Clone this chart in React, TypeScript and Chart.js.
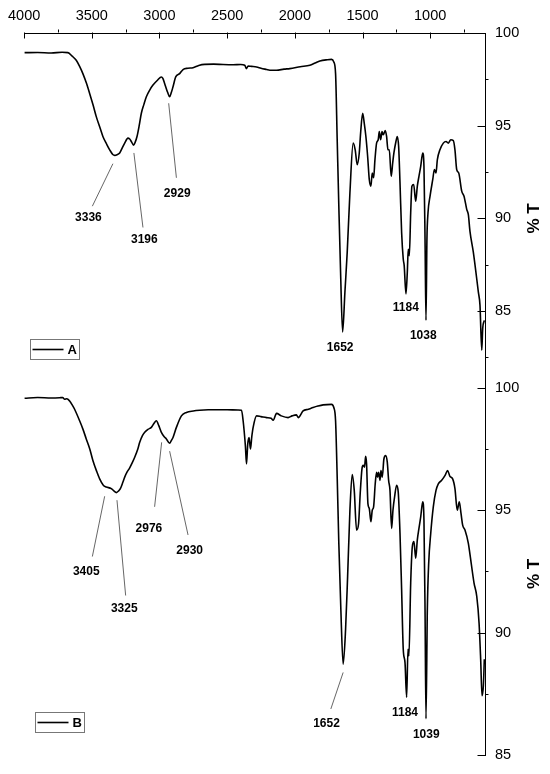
import React, { useEffect, useRef } from "react";
import { Chart, registerables } from "chart.js";

Chart.register(...registerables);

const FONT = "'Liberation Sans', Arial, Helvetica, sans-serif";

// Spectrum A (top panel): wavenumber (cm-1) and %T
const WN_A = [3997, 3900, 3800, 3720, 3677, 3645, 3615, 3590, 3566, 3540, 3516, 3490, 3467, 3440, 3418, 3390, 3368, 3345, 3331, 3310, 3294, 3275, 3257, 3233, 3220, 3208, 3191, 3180, 3166, 3150, 3134, 3115, 3097, 3070, 3048, 3015, 2986, 2975, 2962, 2940, 2925, 2912, 2900, 2880, 2851, 2826, 2790, 2752, 2710, 2666, 2600, 2530, 2456, 2400, 2370, 2357, 2345, 2320, 2283, 2250, 2209, 2185, 2135, 2080, 2037, 1960, 1889, 1850, 1815, 1760, 1729, 1712, 1699, 1687, 1675, 1662, 1647, 1630, 1613, 1593, 1569, 1554, 1539, 1524, 1514, 1499, 1487, 1475, 1462, 1450, 1438, 1428, 1418, 1408, 1396, 1384, 1376, 1366, 1356, 1347, 1332, 1322, 1312, 1302, 1288, 1277, 1268, 1253, 1243, 1233, 1223, 1211, 1199, 1192, 1179, 1169, 1162, 1154, 1144, 1135, 1122, 1107, 1095, 1083, 1070, 1055, 1046, 1038, 1031, 1024, 1016, 1001, 981, 969, 957, 947, 928, 903, 883, 866, 848, 829, 817, 804, 789, 767, 750, 730, 718, 706, 681, 644, 632, 619, 612, 600];
const T_A = [98.94, 98.95, 98.92, 98.96, 98.94, 98.75, 98.53, 98.2, 97.81, 97.3, 96.74, 96.1, 95.49, 94.9, 94.42, 94.0, 93.7, 93.45, 93.4, 93.45, 93.53, 93.8, 94.06, 94.33, 94.28, 94.15, 93.95, 94.1, 94.42, 95.0, 95.67, 96.15, 96.56, 96.95, 97.19, 97.45, 97.63, 97.55, 97.28, 96.8, 96.56, 96.8, 97.1, 97.63, 97.81, 98.03, 98.1, 98.13, 98.25, 98.31, 98.32, 98.3, 98.29, 98.3, 98.26, 98.08, 98.22, 98.2, 98.17, 98.1, 98.03, 97.99, 97.99, 98.05, 98.08, 98.18, 98.26, 98.38, 98.49, 98.56, 98.58, 98.44, 97.81, 94.24, 90.67, 87.1, 83.88, 86.02, 88.17, 91.38, 94.06, 93.7, 92.9, 93.53, 94.6, 95.67, 95.13, 94.42, 93.34, 92.1, 91.74, 92.45, 92.19, 93.17, 94.06, 94.24, 94.68, 94.24, 94.68, 94.51, 94.74, 94.42, 93.7, 93.7, 92.27, 92.99, 93.53, 94.15, 94.42, 93.88, 91.92, 89.24, 87.81, 87.45, 85.93, 87.1, 88.34, 87.99, 90.31, 91.74, 91.83, 90.93, 91.74, 92.27, 92.81, 93.53, 92.81, 88.88, 84.5, 88.88, 90.31, 91.2, 92.1, 92.63, 92.45, 93.17, 93.7, 94.06, 94.15, 94.06, 94.24, 94.2, 93.7, 92.63, 92.45, 91.47, 91.2, 90.49, 90.2, 89.3, 88.17, 86.02, 85.31, 82.89, 84.06, 84.5];

// Spectrum B (bottom panel)
const WN_B = [3997, 3900, 3800, 3738, 3715, 3701, 3685, 3664, 3645, 3627, 3590, 3565, 3541, 3515, 3492, 3465, 3442, 3415, 3393, 3356, 3335, 3319, 3300, 3289, 3270, 3257, 3240, 3220, 3200, 3183, 3160, 3146, 3125, 3109, 3085, 3060, 3040, 3023, 3005, 2986, 2965, 2949, 2925, 2912, 2900, 2875, 2838, 2801, 2750, 2703, 2640, 2579, 2500, 2420, 2394, 2382, 2365, 2357, 2348, 2338, 2328, 2318, 2308, 2283, 2250, 2209, 2175, 2160, 2135, 2100, 2050, 2020, 1988, 1975, 1939, 1900, 1865, 1830, 1791, 1729, 1712, 1699, 1687, 1675, 1660, 1643, 1625, 1610, 1593, 1576, 1561, 1544, 1529, 1517, 1504, 1495, 1485, 1477, 1470, 1460, 1450, 1438, 1428, 1418, 1406, 1396, 1389, 1381, 1371, 1364, 1354, 1342, 1329, 1317, 1307, 1297, 1285, 1275, 1263, 1248, 1236, 1223, 1211, 1199, 1186, 1174, 1164, 1157, 1144, 1132, 1120, 1107, 1095, 1083, 1070, 1055, 1046, 1038, 1031, 1021, 1011, 996, 977, 957, 940, 915, 890, 871, 854, 834, 817, 800, 785, 772, 760, 743, 718, 706, 676, 656, 639, 627, 617, 607, 600];
const T_B = [99.57, 99.6, 99.58, 99.59, 99.6, 99.53, 99.55, 99.46, 99.3, 99.12, 98.65, 98.3, 97.91, 97.5, 97.03, 96.6, 96.28, 96.02, 95.95, 95.88, 95.78, 95.72, 95.8, 95.88, 96.15, 96.35, 96.55, 96.73, 96.95, 97.16, 97.5, 97.77, 98.05, 98.18, 98.3, 98.38, 98.55, 98.65, 98.45, 98.18, 98.0, 97.91, 97.73, 97.85, 97.97, 98.38, 98.85, 98.99, 99.05, 99.08, 99.1, 99.1, 99.1, 99.09, 99.08, 98.65, 97.6, 96.89, 97.7, 97.97, 97.5, 98.0, 98.38, 98.85, 98.82, 98.78, 98.75, 98.67, 98.95, 98.85, 98.78, 98.85, 98.89, 98.78, 99.05, 99.12, 99.19, 99.25, 99.3, 99.32, 99.19, 98.65, 96.35, 93.65, 90.95, 88.72, 90.14, 92.3, 95.0, 96.46, 95.81, 94.19, 94.46, 95.68, 96.69, 96.83, 96.76, 97.2, 96.89, 95.27, 95.07, 94.53, 95.0, 95.14, 96.08, 96.55, 96.35, 96.55, 96.22, 96.62, 96.35, 97.09, 97.23, 96.96, 96.22, 95.81, 94.26, 95.0, 95.54, 96.02, 95.74, 94.05, 91.76, 89.33, 88.78, 87.37, 89.33, 89.06, 92.03, 93.51, 93.72, 93.04, 93.79, 94.26, 94.73, 95.34, 94.6, 90.95, 86.49, 90.95, 92.84, 94.05, 95.14, 95.81, 96.08, 96.22, 96.42, 96.62, 96.38, 96.28, 95.88, 95.0, 95.34, 94.86, 94.39, 94.19, 93.65, 93.2, 92.03, 91.49, 90.41, 88.92, 87.43, 87.84, 88.92];

// Axis ticks
const X_TICKS = [4000, 3500, 3000, 2500, 2000, 1500, 1000];
const X_MINOR = [3750, 3250, 2750, 2250, 1750, 1250, 750];
const Y_TICKS = [85, 90, 95, 100];
const Y_MINOR_A = [97.5, 92.5, 87.5, 82.5];
const Y_MINOR_B = [97.5, 92.5, 87.5];

// Peak labels, top panel: text position (wavenumber, %T)
const PEAK_TXT_A = ["3336", "3196", "2929", "1652", "1184", "1038"];
const PEAK_WN_A = [3525, 3112, 2869, 1665, 1180, 1051];
const PEAK_T_A = [90.02, 88.85, 91.32, 83.05, 85.2, 83.68];
// leader lines: [wn1, T1, wn2, T2]
const LEAD_A = [
  [3344, 92.95, 3496, 90.66],
  [3189, 93.53, 3122, 89.51],
  [2932, 96.21, 2875, 92.19],
];

// Peak labels, bottom panel
const PEAK_TXT_B = ["3405", "3325", "2976", "2930", "1652", "1184", "1039"];
const PEAK_WN_B = [3541, 3260, 3078, 2777, 1766, 1186, 1029];
const PEAK_T_B = [92.51, 90.97, 94.26, 93.33, 86.27, 86.74, 85.83];
const LEAD_B = [
  [3405, 95.57, 3496, 93.11],
  [3314, 95.41, 3250, 91.52],
  [2984, 97.77, 3036, 95.14],
  [2925, 97.41, 2789, 93.99],
  [1643, 88.38, 1734, 86.89],
];

// Legend anchors (wavenumber, %T of top-left corner)
const LEGEND_NAMES = ["A", "B"];
const LEGEND_WN = [3960, 3918];
const LEGEND_T = [83.47, 86.76];

const annotPlugin = {
  id: "annot",
  afterDraw(chart: any) {
    const ctx = chart.ctx as CanvasRenderingContext2D;
    const x = chart.scales.x;
    const yA = chart.scales.yA;
    const yB = chart.scales.yB;
    const ca = chart.chartArea;
    const crisp = (v: number) => Math.round(v) + 0.5;
    ctx.save();
    ctx.strokeStyle = "#000";
    ctx.lineWidth = 1;
    // x ticks
    const axY = crisp(ca.top) - 1;
    ctx.beginPath();
    X_TICKS.forEach((v) => {
      const px = crisp(x.getPixelForValue(v));
      ctx.moveTo(px, axY);
      ctx.lineTo(px, axY + 6);
    });
    X_MINOR.forEach((v) => {
      const px = crisp(x.getPixelForValue(v));
      ctx.moveTo(px, axY);
      ctx.lineTo(px, axY - 3);
    });
    // y ticks
    const axX = crisp(ca.right);
    const yTicks = (s: any, minors: number[]) => {
      Y_TICKS.forEach((v) => {
        const py = crisp(s.getPixelForValue(v));
        ctx.moveTo(axX, py);
        ctx.lineTo(axX - 8, py);
      });
      minors.forEach((v) => {
        const py = crisp(s.getPixelForValue(v));
        ctx.moveTo(axX, py);
        ctx.lineTo(axX + 3, py);
      });
    };
    yTicks(yA, Y_MINOR_A);
    yTicks(yB, Y_MINOR_B);
    ctx.stroke();

    // leader lines
    ctx.strokeStyle = "#555";
    ctx.lineWidth = 0.9;
    ctx.beginPath();
    LEAD_A.forEach((l) => {
      ctx.moveTo(x.getPixelForValue(l[0]), yA.getPixelForValue(l[1]));
      ctx.lineTo(x.getPixelForValue(l[2]), yA.getPixelForValue(l[3]));
    });
    LEAD_B.forEach((l) => {
      ctx.moveTo(x.getPixelForValue(l[0]), yB.getPixelForValue(l[1]));
      ctx.lineTo(x.getPixelForValue(l[2]), yB.getPixelForValue(l[3]));
    });
    ctx.stroke();

    // peak labels
    ctx.fillStyle = "#000";
    ctx.font = `bold 12px ${FONT}`;
    ctx.textAlign = "center";
    ctx.textBaseline = "middle";
    PEAK_TXT_A.forEach((t, i) => {
      ctx.fillText(t, x.getPixelForValue(PEAK_WN_A[i]), yA.getPixelForValue(PEAK_T_A[i]));
    });
    PEAK_TXT_B.forEach((t, i) => {
      ctx.fillText(t, x.getPixelForValue(PEAK_WN_B[i]), yB.getPixelForValue(PEAK_T_B[i]));
    });

    // legend boxes
    const scalesY = [yA, yB];
    LEGEND_NAMES.forEach((name, i) => {
      const lx = Math.round(x.getPixelForValue(LEGEND_WN[i])) + 0.5;
      const ly = Math.round(scalesY[i].getPixelForValue(LEGEND_T[i])) + 0.5;
      const w = 49;
      const h = 20;
      ctx.strokeStyle = "#777";
      ctx.lineWidth = 1;
      ctx.strokeRect(lx, ly, w, h);
      ctx.strokeStyle = "#000";
      ctx.lineWidth = 1.6;
      ctx.beginPath();
      ctx.moveTo(lx + 2, ly + h / 2);
      ctx.lineTo(lx + 33, ly + h / 2);
      ctx.stroke();
      ctx.fillStyle = "#000";
      ctx.font = `bold 13px ${FONT}`;
      ctx.textAlign = "left";
      ctx.textBaseline = "middle";
      ctx.fillText(name, lx + 37, ly + h / 2 + 1);
    });

    // axis titles "% T"
    ctx.font = `bold 17px ${FONT}`;
    ctx.textAlign = "center";
    ctx.textBaseline = "middle";
    const titleY = [yA.getPixelForValue(90), yB.getPixelForValue(92.4)];
    titleY.forEach((ty) => {
      ctx.save();
      ctx.translate(ca.right + 49, ty);
      ctx.rotate(-Math.PI / 2);
      ctx.fillText("% T", 0, 0);
      ctx.restore();
    });
    ctx.restore();
  },
};

export default function App() {
  const ref = useRef<HTMLCanvasElement>(null);
  useEffect(() => {
    const canvas = ref.current;
    if (!canvas) return;
    const tickFont = { family: FONT, size: 14.5 };
    const yCommon = (min: number, weight: number) => ({
      type: "linear" as const,
      position: "right" as const,
      stack: "panels",
      stackWeight: weight,
      min,
      max: 100,
      afterFit: (s: any) => {
        s.width = 65;
      },
      afterBuildTicks: (s: any) => {
        s.ticks = Y_TICKS.map((v) => ({ value: v }));
      },
      grid: { display: false, drawTicks: false },
      border: { display: true, color: "#000", width: 1 },
      ticks: {
        font: tickFont,
        color: "#000",
        padding: 10,
        callback: (v: any) => String(v),
      },
    });
    const lineStyle = {
      xAxisID: "x",
      borderColor: "#000",
      borderWidth: 1.6,
      pointRadius: 0,
      cubicInterpolationMode: "monotone" as const,
      fill: false,
    };
    const chart = new Chart(canvas, {
      type: "line",
      data: {
        datasets: [
          {
            ...lineStyle,
            label: "A",
            data: WN_A.map((w, i) => ({ x: w, y: T_A[i] })),
            yAxisID: "yA",
          },
          {
            ...lineStyle,
            label: "B",
            data: WN_B.map((w, i) => ({ x: w, y: T_B[i] })),
            yAxisID: "yB",
          },
        ],
      },
      options: {
        responsive: false,
        animation: false,
        layout: { padding: { left: 24, right: 0, top: 0, bottom: 14 } },
        plugins: { legend: { display: false }, tooltip: { enabled: false } },
        scales: {
          x: {
            type: "linear",
            position: "top",
            reverse: true,
            min: 595,
            max: 4000,
            afterFit: (s: any) => {
              s.height = 33;
            },
            afterBuildTicks: (s: any) => {
              s.ticks = X_TICKS.map((v) => ({ value: v }));
            },
            grid: { display: false, drawTicks: false },
            border: { display: true, color: "#000", width: 1 },
            ticks: {
              font: tickFont,
              color: "#000",
              padding: 8,
              maxRotation: 0,
              autoSkip: false,
              callback: (v: any) => String(v),
            },
          },
          yA: yCommon(80.87, 357),
          yB: yCommon(85, 370),
        },
      } as any,
      plugins: [annotPlugin],
    });
    return () => chart.destroy();
  }, []);
  return (
    <div style={{ position: "absolute", left: 0, top: 0, width: 550, height: 774, background: "#fff" }}>
      <canvas ref={ref} width={550} height={774} style={{ width: 550, height: 774, display: "block" }} />
    </div>
  );
}
